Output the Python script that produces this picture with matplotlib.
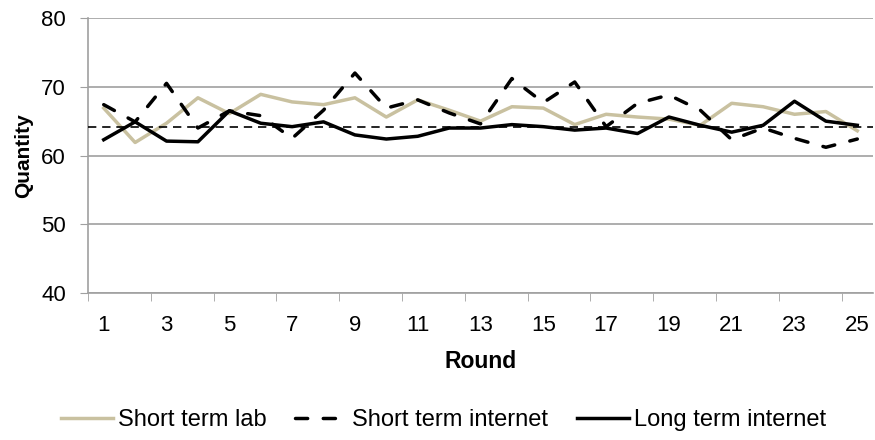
import numpy as np
import matplotlib
matplotlib.use("Agg")
import matplotlib.pyplot as plt

plt.rcParams['font.family'] = ['Liberation Sans', 'DejaVu Sans']

rounds = np.arange(1, 26)
short_lab = [66.9, 61.9, 64.7, 68.4, 66.1, 68.9, 67.8, 67.4, 68.4, 65.6,
             68.1, 66.6, 65.0, 67.1, 66.9, 64.5, 66.0, 65.6, 65.3, 64.4,
             67.6, 67.1, 66.0, 66.4, 63.6]
short_internet = [67.4, 64.9, 70.5, 64.0, 66.5, 65.8, 62.5, 66.6, 72.0, 66.9,
                  68.1, 66.2, 64.6, 71.2, 67.7, 70.7, 64.2, 67.6, 68.8, 66.6,
                  62.3, 64.0, 62.5, 61.2, 62.4]
long_internet = [62.3, 64.9, 62.1, 62.0, 66.5, 64.7, 64.2, 64.9, 63.0, 62.4,
                 62.8, 64.0, 64.0, 64.5, 64.2, 63.7, 64.0, 63.2, 65.6, 64.4,
                 63.4, 64.4, 67.9, 65.0, 64.4]
reference_level = 64.1

GRAY = '#A0A0A0'
BEIGE = '#C9C1A0'

fig = plt.figure(figsize=(8.75, 4.4), dpi=100)
ax = fig.add_axes([0.1006, 0.334, 0.8971, 0.625])

ax.plot(rounds, short_lab, color=BEIGE, linewidth=2.5, label='Short term lab', zorder=3)
ax.plot(rounds, short_internet, color='black', linewidth=2.5, linestyle=(0, (3.5, 4.5)),
        dash_capstyle='round', label='Short term internet', zorder=4)
ax.plot(rounds, long_internet, color='black', linewidth=2.5, label='Long term internet', zorder=5)
ax.axhline(reference_level, color='black', linewidth=1.2, linestyle=(0, (5, 3.5)), zorder=6)

ax.set_xlim(0.5, 25.5)
ax.set_ylim(40, 80)
ax.set_yticks([40, 50, 60, 70, 80])
ax.set_xticks(rounds[::2])
ax.set_xticks(np.arange(0.5, 25, 2), minor=True)
ax.tick_params(axis='x', which='major', length=0, pad=16, labelsize=16)
ax.tick_params(axis='x', which='minor', length=6, color=GRAY, direction='out')
ax.tick_params(axis='y', length=6, color=GRAY, labelsize=16, pad=10)

ax.grid(True, axis='y', color=GRAY, linewidth=1.2, zorder=0)
ax.set_axisbelow(True)
for side in ['top', 'right']:
    ax.spines[side].set_visible(False)
for side in ['left', 'bottom']:
    ax.spines[side].set_color(GRAY)
    ax.spines[side].set_linewidth(1.2)

ax.set_xlabel('Round', fontsize=16.5, weight='bold', labelpad=10)
ax.set_ylabel('Quantity', fontsize=15, weight='bold', labelpad=6)

fig.legend(loc='center', bbox_to_anchor=(0.507, 0.045), bbox_transform=fig.transFigure,
           ncol=3, frameon=False, fontsize=17, handlelength=2.2, handletextpad=0.21,
           columnspacing=1.23, borderpad=0, borderaxespad=0)

fig.savefig('out.png', dpi=100)
